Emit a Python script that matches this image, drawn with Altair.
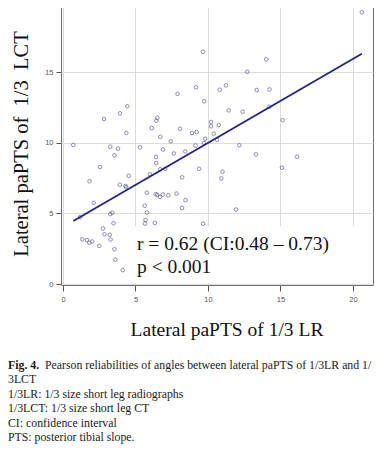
import altair as alt
import pandas as pd

# Lateral paPTS of 1/3 LR (x) vs 1/3 LCT (y)
x_lr = [0.71, 2.83, 3.93, 4.43, 4.37, 7.90, 9.17, 6.12, 6.50, 6.43,
        6.71, 8.07, 8.90, 9.22, 7.43, 3.26, 3.79, 5.31, 6.90, 9.14,
        3.55, 6.41, 6.43, 7.64, 8.43, 2.55, 4.53, 1.83, 3.92, 4.30,
        4.36, 5.99, 6.70, 7.05, 8.22, 2.12, 5.78, 6.39, 6.50, 6.69,
        6.88, 7.26, 7.83, 8.45, 5.64, 3.26, 3.40, 5.79, 8.21, 1.19,
        3.48, 5.69, 5.66, 6.33, 2.76, 2.86, 3.22, 1.33, 1.66, 1.81,
        2.01, 2.50, 3.28, 3.55, 3.61, 4.12, 9.66, 14.02, 12.71, 10.81,
        11.24, 13.36, 14.24, 9.74, 11.43, 12.39, 14.23, 15.15, 10.21, 10.21,
        10.74, 10.40, 9.81, 9.72, 10.62, 12.16, 20.61, 13.31, 16.14, 15.10,
        9.38, 11.00, 10.92, 11.93, 9.66]
y_lct = [9.84, 11.68, 12.08, 12.58, 10.69, 13.46, 13.92, 11.04, 11.77, 11.56,
         10.42, 10.99, 10.69, 10.76, 10.10, 9.72, 9.58, 9.67, 9.52, 9.80,
         9.11, 8.99, 8.56, 9.24, 9.38, 8.28, 7.66, 7.27, 7.03, 6.94,
         6.86, 7.77, 8.12, 8.15, 7.55, 5.75, 6.46, 6.36, 6.32, 6.17,
         6.33, 6.28, 6.40, 5.94, 5.54, 4.95, 5.04, 5.06, 5.38, 4.74,
         4.30, 4.53, 4.28, 4.32, 3.93, 3.52, 3.49, 3.16, 3.11, 2.92,
         3.01, 2.70, 3.15, 2.46, 1.72, 0.98, 16.44, 15.90, 15.02, 13.75,
         14.06, 13.73, 13.77, 12.93, 12.29, 12.19, 12.55, 11.59, 11.47, 11.16,
         11.25, 10.64, 10.28, 9.98, 10.21, 9.82, 19.23, 9.18, 9.01, 8.23,
         8.16, 7.95, 7.47, 5.27, 4.27]

fit_x = [0.71, 20.61]
fit_y = [4.46, 16.30]

x_ticks = [0, 5, 10, 15, 20]
y_ticks = [0, 5, 10, 15]

stat_lines = ["r = 0.62 (CI:0.48 \u2013 0.73)", "p < 0.001"]
caption_bold = "Fig. 4."
caption_lines = [
    "Pearson reliabilities of angles between lateral paPTS of 1/3LR and 1/",
    "3LCT",
    "1/3LR: 1/3 size short leg radiographs",
    "1/3LCT: 1/3 size short leg CT",
    "CI: confidence interval",
    "PTS: posterior tibial slope.",
]

pts = pd.DataFrame({"x": x_lr, "y": y_lct})
fit = pd.DataFrame({"x": fit_x, "y": fit_y})

xscale = alt.Scale(domain=[-0.138, 21.38], nice=False, zero=False)
yscale = alt.Scale(domain=[-0.07, 19.96], nice=False, zero=False)

xaxis = alt.Axis(
    values=x_ticks, title="Lateral paPTS of 1/3 LR",
    titleFont="Liberation Serif", titleFontSize=19.5, titleFontWeight="normal",
    titleColor="#111111", titleX=165.5, titleY=50, titleBaseline="alphabetic",
    titleAlign="center",
    labelFont="Liberation Sans", labelFontSize=7.5, labelColor="#555555",
    tickColor="#555555", tickSize=6, labelPadding=4, domain=False,
    grid=True, gridColor="#dcdcdc", gridWidth=1,
)
yaxis = alt.Axis(
    values=y_ticks,
    title="Lateral paPTS of\u00a0\u00a01/3\u00a0\u00a0LCT",
    titleFont="Liberation Serif", titleFontSize=20.5, titleFontWeight="normal",
    titleColor="#111111", titleX=-34, titleY=141.5, titleAngle=270,
    titleBaseline="alphabetic", titleAlign="center",
    labelFont="Liberation Sans", labelFontSize=7.5, labelColor="#555555",
    tickColor="#555555", tickSize=5, labelPadding=3, domain=False,
    grid=True, gridColor="#dcdcdc", gridWidth=1,
)

one = pd.DataFrame({"k": [0]})

box = alt.Chart(one).mark_rect(color="white").encode(
    x=alt.value(69), x2=alt.value(311), y=alt.value(224), y2=alt.value(281)
)

points = alt.Chart(pts).mark_point(
    shape="circle", filled=False, size=13, strokeWidth=0.9, color="#4a4a8c"
).encode(
    x=alt.X("x:Q", scale=xscale, axis=xaxis),
    y=alt.Y("y:Q", scale=yscale, axis=yaxis),
)

line = alt.Chart(fit).mark_line(color="#22228a", strokeWidth=1.8).encode(
    x=alt.X("x:Q", scale=xscale), y=alt.Y("y:Q", scale=yscale)
)

layers = [box, points, line]

stat_y = [248, 271]
for t, yy in zip(stat_lines, stat_y):
    layers.append(
        alt.Chart(one).mark_text(
            text=t, align="left", baseline="alphabetic",
            font="Liberation Serif", fontSize=19.5, color="#111111",
        ).encode(x=alt.value(76), y=alt.value(yy))
    )

layers.append(
    alt.Chart(one).mark_text(
        text=caption_bold, align="left", baseline="alphabetic",
        font="Liberation Serif", fontSize=11.8, fontWeight="bold", color="#1a1a1a",
    ).encode(x=alt.value(-53), y=alt.value(367))
)
cap_x = [-16, -53, -53, -53, -53, -53]
for i, (t, cx) in enumerate(zip(caption_lines, cap_x)):
    layers.append(
        alt.Chart(one).mark_text(
            text=t, align="left", baseline="alphabetic",
            font="Liberation Serif", fontSize=11.8, color="#1a1a1a",
        ).encode(x=alt.value(cx), y=alt.value(367 + 14.4 * i))
    )

chart = alt.layer(*layers).properties(
    width=312, height=283,
    autosize="none",
    padding={"left": 53, "top": -6, "right": 4, "bottom": 164},
).configure_view(
    stroke="#707070", strokeWidth=1
)

chart.save("out.html", embed_options={"renderer": "svg", "actions": False})
